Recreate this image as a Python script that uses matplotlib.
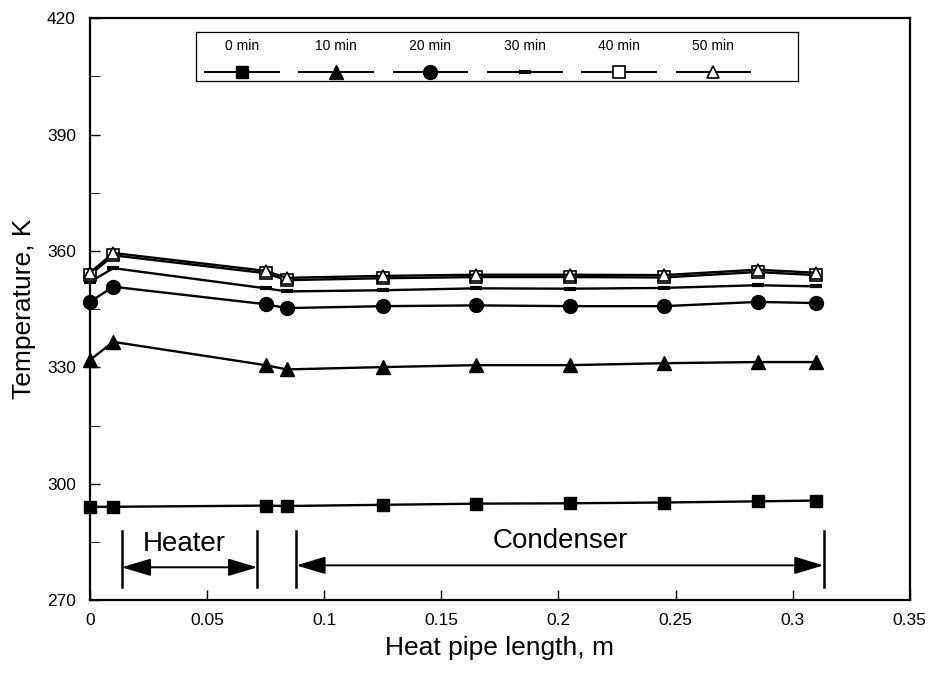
import numpy as np
import matplotlib
matplotlib.use('Agg')
import matplotlib.pyplot as plt
from matplotlib.ticker import MultipleLocator

plt.rcParams['font.family'] = ['Liberation Sans', 'DejaVu Sans']

# DATA
#------------------------
x = [0.0, 0.01, 0.075, 0.084, 0.125, 0.165, 0.205, 0.245, 0.285, 0.31]
t_0min  = [294.1, 294.1, 294.4, 294.3, 294.6, 294.9, 295.0, 295.2, 295.5, 295.7]
t_10min = [331.9, 336.6, 330.6, 329.5, 330.1, 330.6, 330.6, 331.1, 331.4, 331.4]
t_20min = [346.9, 350.8, 346.3, 345.3, 345.8, 346.0, 345.8, 345.8, 346.9, 346.6]
t_30min = [352.0, 355.6, 350.4, 349.6, 349.9, 350.4, 350.3, 350.5, 351.2, 350.9]
t_40min = [353.8, 358.9, 354.3, 352.5, 353.0, 353.3, 353.3, 353.2, 354.6, 353.8]
t_50min = [354.4, 359.5, 354.9, 353.1, 353.6, 353.9, 353.9, 353.8, 355.2, 354.4]
labels = ['0 min', '10 min', '20 min', '30 min', '40 min', '50 min']

heater_span = [0.0136, 0.0715]
condenser_span = [0.0881, 0.3132]
#------------------------

series = [t_0min, t_10min, t_20min, t_30min, t_40min, t_50min]
styles = [dict(marker='s', ms=9, mfc='k'),
          dict(marker='^', ms=10, mfc='k'),
          dict(marker='o', ms=10, mfc='k'),
          dict(marker='_', ms=9, mew=3),
          dict(marker='s', ms=9, mfc='white', mew=1.2),
          dict(marker='^', ms=9, mfc='white', mew=1.2)]

fig = plt.figure(figsize=(9.36, 6.76), dpi=100)
ax = fig.add_axes([0.096, 0.112, 0.876, 0.861])

for t, st in zip(series, styles):
    ax.plot(x, t, color='k', lw=1.7, mec='k', clip_on=False, zorder=3, **st)

ax.set_xlim(0, 0.35)
ax.set_ylim(270, 420)
ax.set_xticks(np.arange(0, 0.351, 0.05))
ax.set_xticklabels(['0', '0.05', '0.1', '0.15', '0.2', '0.25', '0.3', '0.35'])
ax.set_yticks([270, 300, 330, 360, 390, 420])
ax.yaxis.set_minor_locator(MultipleLocator(15))
ax.tick_params(direction='in', length=7, width=1, labelsize=12.5)
ax.tick_params(axis='y', which='both', direction='in', length=7, pad=10)
ax.tick_params(axis='x', pad=9)
for sp in ax.spines.values():
    sp.set_linewidth(1.6)
ax.set_xlabel('Heat pipe length, m', fontsize=19, labelpad=6)
ax.set_ylabel('Temperature, K', fontsize=19, labelpad=8)

# Heater / condenser markers
for xs, ytxt, yarr, txt in [(heater_span, 284.4, 278.5, 'Heater'),
                            (condenser_span, 285.4, 279.0, 'Condenser')]:
    for xv in xs:
        ax.plot([xv, xv], [273.3, 287.8], color='k', lw=1.8)
    ax.annotate('', xy=(xs[1], yarr), xytext=(xs[0], yarr),
                arrowprops=dict(arrowstyle='<|-|>,head_length=1.0,head_width=0.3',
                                color='k', lw=1.4, mutation_scale=18,
                                shrinkA=0, shrinkB=0))
    ax.text(xs[0] + (xs[1] - xs[0]) * (0.46 if txt == 'Heater' else 0.5), ytxt, txt,
            fontsize=20, ha='center', va='center')

# Legend (labels above handles)
lax = ax.inset_axes([0.130, 0.893, 0.734, 0.083])
lax.set_xlim(-0.48, 5.9)
lax.set_ylim(0, 1)
lax.set_xticks([])
lax.set_yticks([])
for sp in lax.spines.values():
    sp.set_linewidth(0.9)
for i, (lab, st) in enumerate(zip(labels, styles)):
    lax.plot([i - 0.39, i + 0.39], [0.17, 0.17], color='k', lw=1.4)
    lax.plot([i], [0.17], color='k', mec='k', **st)
    lax.text(i, 0.72, lab, fontsize=10, ha='center', va='center')

fig.savefig('out.png', dpi=100)
